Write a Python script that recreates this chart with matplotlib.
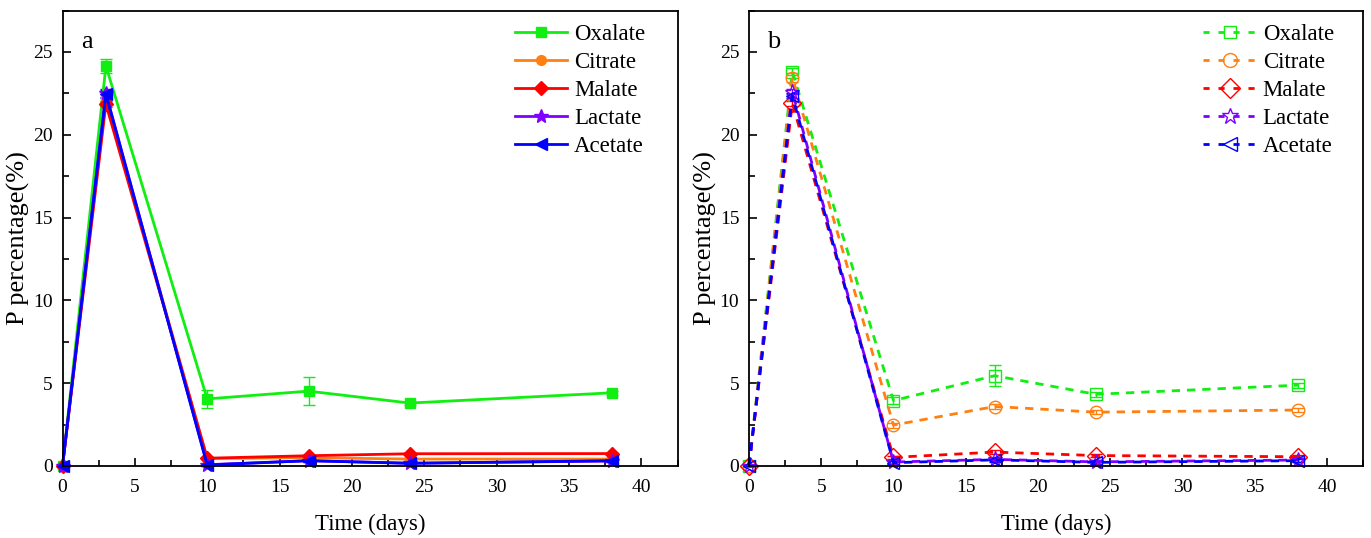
import matplotlib
matplotlib.use("Agg")
import matplotlib.pyplot as plt
from matplotlib.ticker import MultipleLocator

plt.rcParams['font.family'] = ['Liberation Serif', 'DejaVu Serif']

days = [0, 3, 10, 17, 24, 38]
names = ["Oxalate", "Citrate", "Malate", "Lactate", "Acetate"]
colors = ["#11EE11", "#FF8010", "#FF0000", "#8000FF", "#0000FF"]

# panel a (solid, filled markers)
a_oxalate = [0, 24.15, 4.05, 4.52, 3.8, 4.42]
a_citrate = [0, 22.2, 0.45, 0.5, 0.42, 0.42]
a_malate = [0, 21.85, 0.47, 0.62, 0.74, 0.75]
a_lactate = [0, 22.5, 0.08, 0.32, 0.17, 0.3]
a_acetate = [0, 22.45, 0.06, 0.32, 0.16, 0.32]
a_oxalate_err = [0, 0.4, 0.52, 0.85, 0.1, 0.12]
a_citrate_err = [0, 0.25, 0.05, 0.05, 0.05, 0.05]
a_malate_err = [0, 0.2, 0.05, 0.05, 0.05, 0.05]
a_lactate_err = [0, 0.25, 0.05, 0.05, 0.05, 0.05]
a_acetate_err = [0, 0.25, 0.05, 0.05, 0.05, 0.05]

# panel b (dashed, hollow markers)
b_oxalate = [0, 23.8, 3.95, 5.45, 4.33, 4.88]
b_citrate = [0, 23.45, 2.47, 3.59, 3.25, 3.38]
b_malate = [0, 21.9, 0.52, 0.84, 0.63, 0.56]
b_lactate = [0, 22.6, 0.24, 0.4, 0.25, 0.36]
b_acetate = [0, 22.35, 0.2, 0.37, 0.22, 0.32]
b_oxalate_err = [0, 0.2, 0.2, 0.62, 0.15, 0.15]
b_citrate_err = [0, 0.25, 0.15, 0.15, 0.12, 0.12]
b_malate_err = [0, 0.15, 0.1, 0.1, 0.1, 0.1]
b_lactate_err = [0, 0.15, 0.1, 0.1, 0.1, 0.1]
b_acetate_err = [0, 0.15, 0.1, 0.1, 0.1, 0.1]

a_series = [a_oxalate, a_citrate, a_malate, a_lactate, a_acetate]
a_errs = [a_oxalate_err, a_citrate_err, a_malate_err, a_lactate_err, a_acetate_err]
b_series = [b_oxalate, b_citrate, b_malate, b_lactate, b_acetate]
b_errs = [b_oxalate_err, b_citrate_err, b_malate_err, b_lactate_err, b_acetate_err]

markers = ["s", "o", "D", "*", "<"]
msize_a = [7, 7, 7, 10, 8]
msize_b = [8, 9, 9, 11, 9]
dash = (0, (3, 2.5))

fig = plt.figure(figsize=(13.71, 5.38), dpi=100)
ax1 = fig.add_axes([62.5/1371, 1-466/538, 615/1371, 455.5/538])
ax2 = fig.add_axes([749/1371, 1-466/538, 614/1371, 455.5/538])

h1 = []
for i, name in enumerate(names):
    ax1.errorbar(days, a_series[i], yerr=a_errs[i], color=colors[i], lw=2,
                 marker=markers[i], ms=msize_a[i], mfc=colors[i], mec=colors[i],
                 capsize=4, elinewidth=1, capthick=1, clip_on=False)
    h, = ax1.plot([], [], color=colors[i], lw=2, marker=markers[i], ms=msize_a[i],
                  mfc=colors[i], mec=colors[i], label=name)
    h1.append(h)

h2 = []
for i, name in enumerate(names):
    ax2.errorbar(days, b_series[i], yerr=b_errs[i], color=colors[i], lw=2, ls=dash,
                 marker=markers[i], ms=msize_b[i], mfc="none", mec=colors[i], mew=1,
                 capsize=4, elinewidth=1, capthick=1, clip_on=False)
    h, = ax2.plot([], [], color=colors[i], lw=2, ls=(0, (2.2, 3.2)), marker=markers[i],
                  ms=msize_b[i] + 1, mfc="none", mec=colors[i], mew=1, label=name)
    h2.append(h)

for ax, lab in [(ax1, "a"), (ax2, "b")]:
    ax.set_xlim(0, 42.5)
    ax.set_ylim(0, 27.5)
    ax.xaxis.set_major_locator(MultipleLocator(5))
    ax.xaxis.set_minor_locator(MultipleLocator(2.5))
    ax.yaxis.set_major_locator(MultipleLocator(5))
    ax.yaxis.set_minor_locator(MultipleLocator(2.5))
    ax.tick_params(which="both", direction="in", top=False, right=False, labelsize=14)
    ax.tick_params(axis="x", which="major", pad=9)
    ax.tick_params(axis="y", which="major", pad=7)
    ax.tick_params(which="major", length=6, width=1.2)
    ax.tick_params(which="minor", length=4, width=1.2)
    for s in ax.spines.values():
        s.set_linewidth(1.3)
    ax.set_xlabel("Time (days)", fontsize=16.5, labelpad=13)
    ax.set_ylabel("P percentage(%)", fontsize=19, labelpad=2)
    ax.text(0.03, 0.955, lab, transform=ax.transAxes, fontsize=19, va="top", ha="left")

leg_kw = dict(loc="upper right", frameon=False, fontsize=16.5, handlelength=2.3,
              handletextpad=0.3, labelspacing=0.3, borderaxespad=0.1,
              borderpad=0.5)
ax1.legend(handles=h1, bbox_to_anchor=(0.97, 1.0), **leg_kw)
ax2.legend(handles=h2, bbox_to_anchor=(0.975, 1.0), **leg_kw)

fig.savefig("out.png", dpi=100)
